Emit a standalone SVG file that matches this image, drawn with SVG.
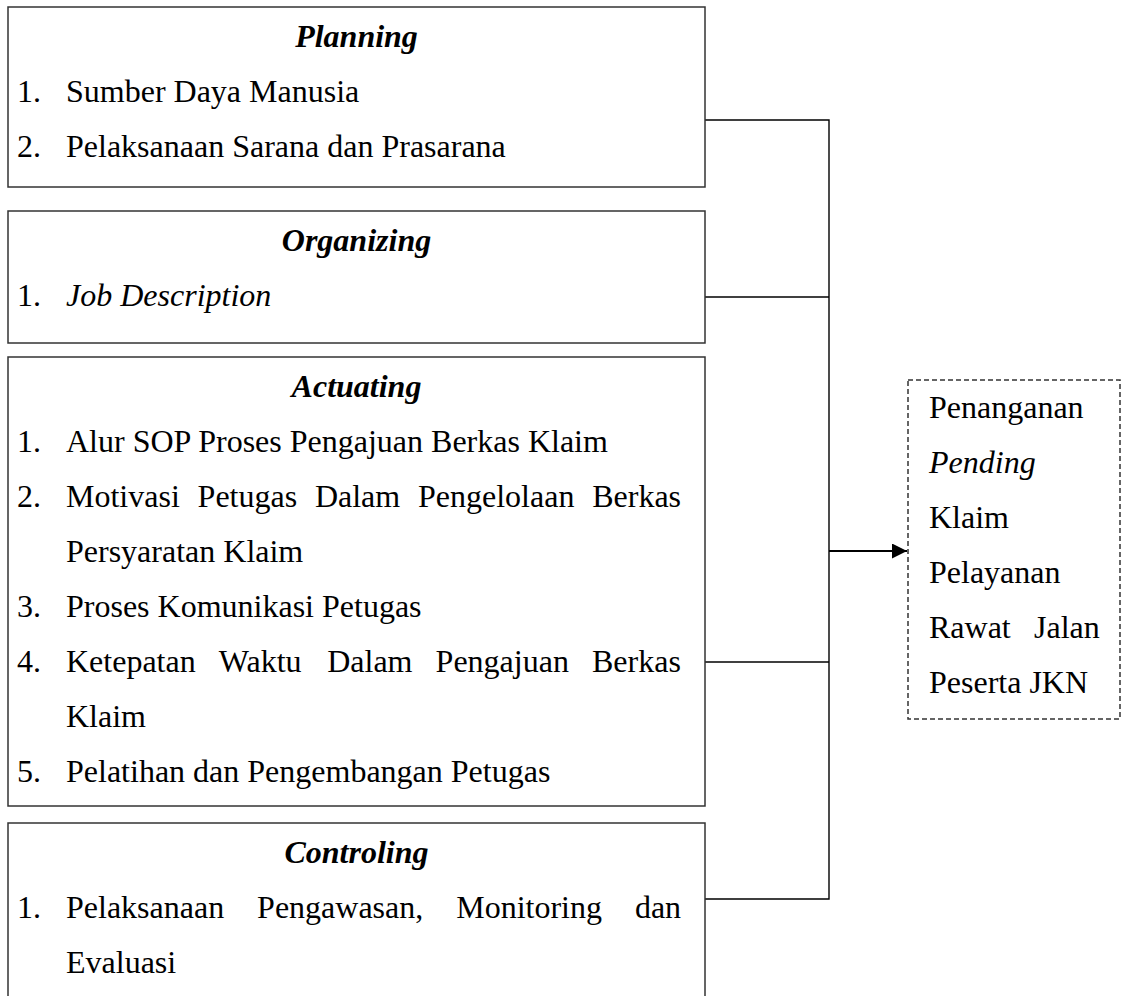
<svg xmlns="http://www.w3.org/2000/svg" width="1122" height="996" viewBox="0 0 1122 996">
<defs>
<style>
.box{fill:#fff;stroke:#333;stroke-width:1.5}
.dash{fill:#fff;stroke:#333;stroke-width:1.5;stroke-dasharray:5 3}
.ln{fill:none;stroke:#000;stroke-width:1.4}
.arr{fill:none;stroke:#000;stroke-width:2.2}
text{font-family:"Liberation Serif","Times New Roman",serif;font-size:32px;fill:#000}
.ttl{font-weight:bold;font-style:italic}
.it{font-style:italic}
</style>
<marker id="ah" markerWidth="16" markerHeight="16" refX="15" refY="7.5" orient="auto" markerUnits="userSpaceOnUse">
<path d="M0,0 L15,7.5 L0,15 Z" fill="#000"/>
</marker>
</defs>
<rect width="1122" height="996" fill="#fff"/>
<g id="connectors">
<polyline class="ln" points="705,120 829,120 829,899 705,899"/>
<line class="ln" x1="705" y1="297" x2="829" y2="297"/>
<line class="ln" x1="705" y1="662" x2="829" y2="662"/>
<line class="arr" x1="829" y1="551" x2="907" y2="551" marker-end="url(#ah)"/>
</g>
<g id="planning">
<rect class="box" x="8" y="7" width="697" height="180"/>
<text class="ttl" x="356.5" y="47" text-anchor="middle">Planning</text>
<text x="17" y="102">1.</text><text x="66" y="102">Sumber Daya Manusia</text>
<text x="17" y="157">2.</text><text x="66" y="157">Pelaksanaan Sarana dan Prasarana</text>
</g>
<g id="organizing">
<rect class="box" x="8" y="211" width="697" height="132"/>
<text class="ttl" x="356.5" y="251" text-anchor="middle">Organizing</text>
<text x="17" y="306">1.</text><text class="it" x="66" y="306">Job Description</text>
</g>
<g id="actuating">
<rect class="box" x="8" y="357" width="697" height="449"/>
<text class="ttl" x="356.5" y="397" text-anchor="middle">Actuating</text>
<text x="17" y="452">1.</text><text x="66" y="452">Alur SOP Proses Pengajuan Berkas Klaim</text>
<text x="17" y="507">2.</text><text y="507"><tspan x="66">Motivasi</tspan><tspan x="197.6">Petugas</tspan><tspan x="314.9">Dalam</tspan><tspan x="418">Pengelolaan</tspan><tspan x="592.2">Berkas</tspan></text>
<text x="66" y="562">Persyaratan Klaim</text>
<text x="17" y="617">3.</text><text x="66" y="617">Proses Komunikasi Petugas</text>
<text x="17" y="672">4.</text><text y="672"><tspan x="66">Ketepatan</tspan><tspan x="218.8">Waktu</tspan><tspan x="327.2">Dalam</tspan><tspan x="435.6">Pengajuan</tspan><tspan x="592">Berkas</tspan></text>
<text x="66" y="727">Klaim</text>
<text x="17" y="782">5.</text><text x="66" y="782">Pelatihan dan Pengembangan Petugas</text>
</g>
<g id="controling">
<rect class="box" x="8" y="823" width="697" height="200"/>
<text class="ttl" x="356.5" y="863" text-anchor="middle">Controling</text>
<text x="17" y="918">1.</text><text y="918"><tspan x="66">Pelaksanaan</tspan><tspan x="257.1">Pengawasan,</tspan><tspan x="456.2">Monitoring</tspan><tspan x="634.9">dan</tspan></text>
<text x="66" y="973">Evaluasi</text>
</g>
<g id="outcome">
<rect class="dash" x="908" y="380" width="212" height="339"/>
<text x="929" y="418">Penanganan</text>
<text class="it" x="929" y="473">Pending</text>
<text x="929" y="528">Klaim</text>
<text x="929" y="583">Pelayanan</text>
<text y="638"><tspan x="929">Rawat</tspan><tspan x="1034">Jalan</tspan></text>
<text x="929" y="693">Peserta JKN</text>
</g>
</svg>
